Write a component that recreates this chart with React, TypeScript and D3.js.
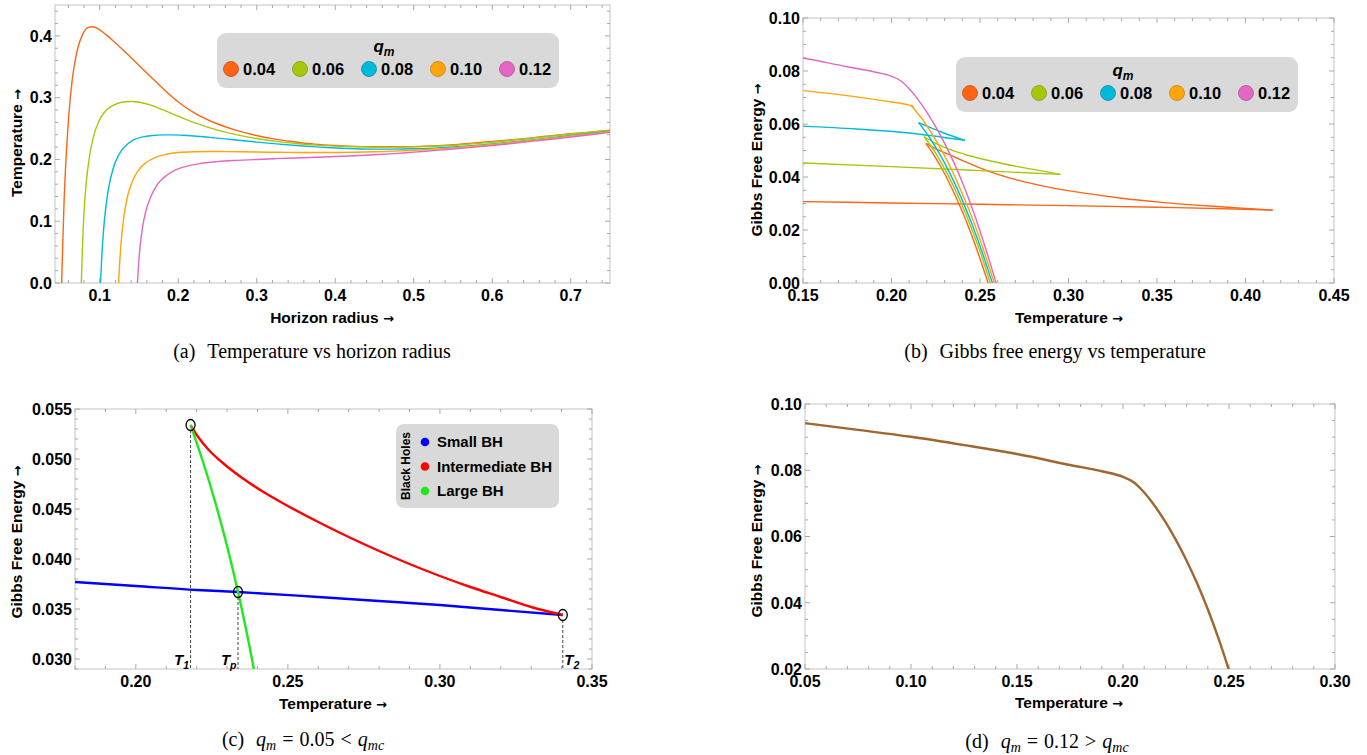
import React from 'react';
import * as d3 from 'd3';

type Pt = [number, number];

const SANS = '"Liberation Sans", Arial, Helvetica, sans-serif';
const SERIF = '"Liberation Serif", "Times New Roman", Times, serif';
const ARROW_FONT = '"DejaVu Sans", sans-serif';

// ---------------- shared legend (q_m) ----------------
const qmLabels = ['0.04', '0.06', '0.08', '0.10', '0.12'];
const qmColors = ['#FF6414', '#A5C80C', '#00B9DB', '#FFA50A', '#E466C2'];

// ---------------- (a) Temperature vs horizon radius ----------------
const radiusTicksA = [0.1, 0.2, 0.3, 0.4, 0.5, 0.6, 0.7];
const tempTicksA = [0, 0.1, 0.2, 0.3, 0.4];

const tempQ004: Pt[] = [[0.0515, 0], [0.0528, 0.06], [0.0545, 0.13], [0.057, 0.2], [0.0605, 0.27], [0.065, 0.33], [0.071, 0.375], [0.078, 0.402], [0.085, 0.4135], [0.091, 0.4148], [0.098, 0.4115], [0.106, 0.404], [0.118, 0.391], [0.134, 0.372], [0.155, 0.346], [0.177, 0.319], [0.198, 0.295], [0.222, 0.274], [0.247, 0.259], [0.273, 0.2475], [0.298, 0.2392], [0.323, 0.2328], [0.35, 0.2282], [0.3735, 0.2248], [0.4, 0.2225], [0.424, 0.2212], [0.45, 0.2206], [0.474, 0.2205], [0.5, 0.2208], [0.525, 0.2218], [0.55, 0.2238], [0.575, 0.2264], [0.6, 0.229], [0.626, 0.232], [0.65, 0.235], [0.676, 0.2385], [0.7, 0.2415], [0.725, 0.2443], [0.75, 0.2472]];
const tempQ006: Pt[] = [[0.0765, 0], [0.078, 0.06], [0.08, 0.115], [0.083, 0.165], [0.087, 0.205], [0.092, 0.237], [0.099, 0.262], [0.107, 0.278], [0.117, 0.2875], [0.128, 0.2925], [0.14, 0.2938], [0.152, 0.2922], [0.165, 0.2878], [0.18, 0.2805], [0.2, 0.27], [0.225, 0.2575], [0.25, 0.2475], [0.275, 0.2398], [0.3, 0.2338], [0.325, 0.2292], [0.35, 0.2258], [0.375, 0.2232], [0.4, 0.2215], [0.425, 0.2205], [0.45, 0.22], [0.475, 0.2199], [0.5, 0.2203], [0.525, 0.2213], [0.55, 0.2229], [0.575, 0.2252], [0.6, 0.2279], [0.625, 0.231], [0.65, 0.2343], [0.675, 0.2378], [0.7, 0.2412], [0.725, 0.2441], [0.75, 0.247]];
const tempQ008: Pt[] = [[0.101, 0], [0.1025, 0.04], [0.1045, 0.08], [0.1075, 0.12], [0.1115, 0.155], [0.117, 0.185], [0.124, 0.207], [0.133, 0.222], [0.143, 0.2315], [0.155, 0.2365], [0.168, 0.2388], [0.18, 0.2397], [0.192, 0.2398], [0.205, 0.2392], [0.22, 0.238], [0.24, 0.2358], [0.26, 0.2333], [0.28, 0.2306], [0.3, 0.2281], [0.325, 0.2252], [0.35, 0.2226], [0.375, 0.2203], [0.4, 0.2185], [0.425, 0.2173], [0.45, 0.2167], [0.475, 0.2167], [0.5, 0.2172], [0.525, 0.2184], [0.55, 0.2201], [0.575, 0.2224], [0.6, 0.2251], [0.625, 0.2282], [0.65, 0.2316], [0.675, 0.2351], [0.7, 0.2387], [0.725, 0.2421], [0.75, 0.2455]];
const tempQ010: Pt[] = [[0.124, 0], [0.1255, 0.035], [0.1275, 0.07], [0.1305, 0.105], [0.135, 0.138], [0.141, 0.163], [0.149, 0.182], [0.159, 0.195], [0.171, 0.2035], [0.185, 0.2085], [0.2, 0.2112], [0.22, 0.2125], [0.24, 0.2128], [0.26, 0.2127], [0.28, 0.2124], [0.3, 0.212], [0.325, 0.2116], [0.35, 0.2113], [0.375, 0.2112], [0.4, 0.2113], [0.425, 0.2117], [0.45, 0.2124], [0.475, 0.2134], [0.5, 0.2148], [0.525, 0.2166], [0.55, 0.2188], [0.575, 0.2213], [0.6, 0.2242], [0.625, 0.2274], [0.65, 0.2308], [0.675, 0.2343], [0.7, 0.2379], [0.725, 0.2414], [0.75, 0.2449]];
const tempQ012: Pt[] = [[0.148, 0], [0.1495, 0.03], [0.1515, 0.06], [0.1545, 0.09], [0.1585, 0.115], [0.1645, 0.138], [0.172, 0.157], [0.182, 0.171], [0.194, 0.1815], [0.209, 0.1885], [0.227, 0.1933], [0.25, 0.1965], [0.275, 0.1985], [0.3, 0.2], [0.325, 0.2013], [0.35, 0.2024], [0.375, 0.2035], [0.4, 0.2047], [0.425, 0.206], [0.45, 0.2075], [0.475, 0.2094], [0.5, 0.2118], [0.525, 0.2142], [0.55, 0.2168], [0.575, 0.2196], [0.6, 0.2226], [0.625, 0.2258], [0.65, 0.2292], [0.675, 0.2327], [0.7, 0.2363], [0.725, 0.24], [0.75, 0.2438]];
const tempSeries = [tempQ004, tempQ006, tempQ008, tempQ010, tempQ012];

// ---------------- (b) Gibbs free energy vs temperature ----------------
const tempTicksB = [0.15, 0.2, 0.25, 0.3, 0.35, 0.4, 0.45];
const gibbsTicksB = [0, 0.02, 0.04, 0.06, 0.08, 0.1];

const gibbsSmallQ004: Pt[] = [[0.15, 0.0307], [0.2, 0.0302], [0.25, 0.0297], [0.3, 0.0292], [0.35, 0.0286], [0.4, 0.02785], [0.4154, 0.0275]];
const gibbsMidQ004: Pt[] = [[0.2195, 0.0527], [0.226, 0.0503], [0.2336, 0.0482], [0.2425, 0.0455], [0.2524, 0.0428], [0.2713, 0.0388], [0.29, 0.036], [0.31, 0.0338], [0.33, 0.032], [0.35, 0.0306], [0.37, 0.0295], [0.39, 0.0286], [0.405, 0.0279], [0.4154, 0.0275]];
const gibbsLargeQ004: Pt[] = [[0.2195, 0.0527], [0.2245, 0.0477], [0.2295, 0.0419], [0.2345, 0.0352], [0.2395, 0.0277], [0.2445, 0.0194], [0.2495, 0.0102], [0.2546, 0], [0.2552, -0.0012]];
const gibbsSmallQ006: Pt[] = [[0.15, 0.0453], [0.2, 0.0439], [0.25, 0.0424], [0.2954, 0.041]];
const gibbsMidQ006: Pt[] = [[0.2185, 0.0552], [0.225, 0.0527], [0.2336, 0.0502], [0.2425, 0.0483], [0.2524, 0.0466], [0.2713, 0.0439], [0.285, 0.0423], [0.2954, 0.041]];
const gibbsLargeQ006: Pt[] = [[0.2185, 0.0552], [0.2238, 0.0502], [0.2291, 0.0442], [0.2345, 0.0373], [0.2398, 0.0295], [0.2451, 0.0208], [0.2505, 0.0111], [0.2558, 0], [0.2564, -0.0012]];
const gibbsSmallQ008: Pt[] = [[0.15, 0.0592], [0.18, 0.0581], [0.21, 0.0566], [0.2415, 0.0538]];
const gibbsMidQ008: Pt[] = [[0.2153, 0.0605], [0.222, 0.0586], [0.23, 0.0565], [0.2415, 0.0538]];
const gibbsLargeQ008: Pt[] = [[0.2153, 0.0605], [0.2213, 0.0551], [0.2272, 0.0487], [0.2332, 0.0411], [0.2392, 0.0325], [0.2451, 0.0228], [0.2511, 0.0119], [0.257, 0], [0.2576, -0.0012]];
const gibbsSmallQ010: Pt[] = [[0.15, 0.0726], [0.175, 0.0707], [0.2, 0.0683], [0.21, 0.0671], [0.2126, 0.0665]];
const gibbsMidQ010: Pt[] = [[0.2112, 0.0669], [0.2126, 0.0665]];
const gibbsLargeQ010: Pt[] = [[0.2112, 0.0669], [0.2171, 0.0621], [0.2229, 0.0563], [0.2288, 0.0495], [0.2347, 0.0417], [0.2405, 0.0329], [0.2464, 0.0231], [0.2522, 0.0121], [0.2581, 0], [0.2587, -0.0012]];
// q_m = 0.12 (single branch, also used in panel d)
const gibbsQ012: Pt[] = [[0.05, 0.0942], [0.075, 0.0922], [0.1, 0.0901], [0.125, 0.0876], [0.15, 0.0849], [0.175, 0.0816], [0.19, 0.0797], [0.2, 0.078], [0.205, 0.0764], [0.21, 0.0733], [0.215, 0.0692], [0.22, 0.0644], [0.225, 0.0589], [0.23, 0.0527], [0.235, 0.0458], [0.24, 0.03805], [0.245, 0.0293], [0.25, 0.0196], [0.255, 0.0091], [0.26, -0.0019]];

const gibbsBranchesB: Pt[][][] = [
  [gibbsSmallQ004, gibbsMidQ004, gibbsLargeQ004],
  [gibbsSmallQ006, gibbsMidQ006, gibbsLargeQ006],
  [gibbsSmallQ008, gibbsMidQ008, gibbsLargeQ008],
  [gibbsSmallQ010, gibbsMidQ010, gibbsLargeQ010],
  [gibbsQ012],
];

// ---------------- (c) q_m = 0.05 ----------------
const tempTicksC = [0.2, 0.25, 0.3, 0.35];
const gibbsTicksC = [0.03, 0.035, 0.04, 0.045, 0.05, 0.055];
const smallBH: Pt[] = [[0.18, 0.0377], [0.2, 0.0373], [0.22, 0.0369], [0.2336, 0.0367], [0.26, 0.0362], [0.28, 0.0358], [0.3, 0.0354], [0.32, 0.0349], [0.3404, 0.0344]];
const intermediateBH: Pt[] = [[0.218, 0.0534], [0.2205, 0.0522], [0.224, 0.0509], [0.229, 0.0495], [0.235, 0.0481], [0.242, 0.0467], [0.25, 0.0453], [0.26, 0.0437], [0.27, 0.0422], [0.28, 0.0408], [0.29, 0.0395], [0.3, 0.0383], [0.31, 0.0372], [0.32, 0.0362], [0.33, 0.0352], [0.3404, 0.0344]];
const largeBH: Pt[] = [[0.218, 0.0534], [0.222, 0.0498], [0.226, 0.0458], [0.23, 0.0413], [0.2336, 0.0367], [0.2365, 0.0326], [0.2388, 0.029], [0.2395, 0.0278]];
const bhLabels = ['Small BH', 'Intermediate BH', 'Large BH'];
const bhColors = ['#0000FF', '#FF0000', '#1EE81E'];
const transitionSubs = ['1', 'p', '2'];
const transitionPoints: Pt[] = [[0.218, 0.0534], [0.2336, 0.0367], [0.3404, 0.0344]];

// ---------------- (d) q_m = 0.12 ----------------
const tempTicksD = [0.05, 0.1, 0.15, 0.2, 0.25, 0.3];
const gibbsTicksD = [0.02, 0.04, 0.06, 0.08, 0.1];

// ---------------- helpers ----------------
function minorValues(domain: number[], step: number, majors: number[]) {
  const out: number[] = [];
  const lo = Math.min(domain[0], domain[1]);
  const hi = Math.max(domain[0], domain[1]);
  const start = Math.ceil(lo / step - 1e-6);
  for (let k = start; k * step <= hi + 1e-9; k++) {
    const v = +(k * step).toFixed(6);
    if (!majors.some(m => Math.abs(m - v) < step / 10)) out.push(v);
  }
  return out;
}

function Axes({ x, y, xTicks, yTicks, xMinor, yMinor, xDigits, yDigits, id }: any) {
  const [x0, x1] = x.range();
  const [y0, y1] = y.range();
  const xm = minorValues(x.domain(), xMinor, xTicks);
  const ym = minorValues(y.domain(), yMinor, yTicks);
  const tc = '#a8a8a8';
  const M = 5, m = 3;
  return (
    <g>
      <rect x={x0} y={y1} width={x1 - x0} height={y0 - y1} fill="none" stroke="#c4c4c4" strokeWidth={1} />
      {xTicks.map((v: number) => (
        <g key={'xM' + v}>
          <line x1={x(v)} x2={x(v)} y1={y0} y2={y0 - M} stroke={tc} />
          <line x1={x(v)} x2={x(v)} y1={y1} y2={y1 + M} stroke={tc} />
        </g>
      ))}
      {xm.map((v: number) => (
        <g key={'xm' + v}>
          <line x1={x(v)} x2={x(v)} y1={y0} y2={y0 - m} stroke={tc} />
          <line x1={x(v)} x2={x(v)} y1={y1} y2={y1 + m} stroke={tc} />
        </g>
      ))}
      {yTicks.map((v: number) => (
        <g key={'yM' + v}>
          <line y1={y(v)} y2={y(v)} x1={x0} x2={x0 + M} stroke={tc} />
          <line y1={y(v)} y2={y(v)} x1={x1} x2={x1 - M} stroke={tc} />
        </g>
      ))}
      {ym.map((v: number) => (
        <g key={'ym' + v}>
          <line y1={y(v)} y2={y(v)} x1={x0} x2={x0 + m} stroke={tc} />
          <line y1={y(v)} y2={y(v)} x1={x1} x2={x1 - m} stroke={tc} />
        </g>
      ))}
      {xTicks.map((v: number) => (
        <text key={'xl' + v} x={x(v)} y={y0 + 18} textAnchor="middle" fontFamily={SANS} fontWeight="bold" fontSize={16} fill="#000">
          {v.toFixed(xDigits)}
        </text>
      ))}
      {yTicks.map((v: number) => (
        <text key={'yl' + v} x={x0 - 3} y={y(v)} dy="0.36em" textAnchor="end" fontFamily={SANS} fontWeight="bold" fontSize={16} fill="#000">
          {v.toFixed(yDigits)}
        </text>
      ))}
      <clipPath id={id}>
        <rect x={x0} y={y1} width={x1 - x0} height={y0 - y1} />
      </clipPath>
    </g>
  );
}

function AxisTitles({ xLabel, xCx, xBase, yLabel, yCx, yCy }: any) {
  return (
    <g fontFamily={SANS} fontWeight="bold" fontSize={15.5} fill="#000">
      <text x={xCx} y={xBase} textAnchor="middle">
        {xLabel} <tspan fontFamily={ARROW_FONT} fontSize={13}>→</tspan>
      </text>
      <text transform={`translate(${yCx},${yCy}) rotate(-90)`} textAnchor="middle" dy="0.36em">
        {yLabel} <tspan fontFamily={ARROW_FONT} fontSize={13}>→</tspan>
      </text>
    </g>
  );
}

function QmLegend({ bx, by }: any) {
  const w = 342, h = 55;
  return (
    <g>
      <rect x={bx} y={by} width={w} height={h} rx={9} fill="#D9D9D9" />
      <text x={bx + w / 2 - 4} y={by + 19} fontFamily={SANS} fontWeight="bold" fontStyle="italic" fontSize={17} textAnchor="middle">
        q<tspan fontSize={12} dy={4}>m</tspan>
      </text>
      {qmLabels.map((lab, i) => {
        const cx = bx + 14 + i * 69;
        const cy = by + 36;
        return (
          <g key={lab}>
            <circle cx={cx} cy={cy} r={7.5} fill={qmColors[i]} stroke={d3.color(qmColors[i])!.darker(0.7).toString()} strokeWidth={0.8} />
            <text x={cx + 12} y={cy} dy="0.36em" fontFamily={SANS} fontWeight="bold" fontSize={16.5}>{lab}</text>
          </g>
        );
      })}
    </g>
  );
}

function Caption({ cx, y, label, children }: any) {
  return (
    <text x={cx} y={y} textAnchor="middle" fontFamily={SERIF} fontSize={20} fill="#000">
      <tspan>{label}</tspan>
      <tspan dx={12}>{children}</tspan>
    </text>
  );
}

function MathCaption({ cx, y, label, value, rel }: any) {
  return (
    <text x={cx} y={y} textAnchor="middle" fontFamily={SERIF} fontSize={20} fill="#000">
      <tspan>{label}</tspan>
      <tspan dx={12} fontStyle="italic">q</tspan>
      <tspan fontStyle="italic" fontSize={14} dy={4}>m</tspan>
      <tspan dy={-4} dx={6}>=</tspan>
      <tspan dx={6}>{value}</tspan>
      <tspan dx={6}>{rel}</tspan>
      <tspan dx={6} fontStyle="italic">q</tspan>
      <tspan fontStyle="italic" fontSize={14} dy={4}>mc</tspan>
    </text>
  );
}

export default function App() {
  // (a)
  const xA = d3.scaleLinear().domain([0.043, 0.75]).range([55, 610]);
  const yA = d3.scaleLinear().domain([0, 0.45]).range([283, 5]);
  const lineA = d3.line<Pt>().x(d => xA(d[0])).y(d => yA(d[1])).curve(d3.curveMonotoneX);

  // (b)
  const xB = d3.scaleLinear().domain([0.15, 0.45]).range([803, 1334]);
  const yB = d3.scaleLinear().domain([0, 0.1]).range([283, 18]);
  const lineB = d3.line<Pt>().x(d => xB(d[0])).y(d => yB(d[1])).curve(d3.curveMonotoneX);

  // (c)
  const xC = d3.scaleLinear().domain([0.18, 0.35]).range([75, 592]);
  const yC = d3.scaleLinear().domain([0.029, 0.055]).range([669, 409]);
  const lineC = d3.line<Pt>().x(d => xC(d[0])).y(d => yC(d[1])).curve(d3.curveMonotoneX);

  // (d)
  const xD = d3.scaleLinear().domain([0.05, 0.3]).range([805, 1335]);
  const yD = d3.scaleLinear().domain([0.02, 0.1]).range([669, 404]);
  const lineD = d3.line<Pt>().x(d => xD(d[0])).y(d => yD(d[1])).curve(d3.curveMonotoneX);

  const bhSeries = [smallBH, intermediateBH, largeBH];

  return (
    <svg width={1367} height={755} style={{ position: 'absolute', left: 0, top: 0, background: '#fff' }}>
      <rect x={0} y={0} width={1367} height={755} fill="#fff" />

      {/* ---------- (a) ---------- */}
      <Axes id="clipA" x={xA} y={yA} xTicks={radiusTicksA} yTicks={tempTicksA} xMinor={0.02} yMinor={0.02} xDigits={1} yDigits={1} />
      <g clipPath="url(#clipA)">
        {tempSeries.map((s, i) => (
          <path key={i} d={lineA(s) || ''} fill="none" stroke={qmColors[i]} strokeWidth={1.4} />
        ))}
      </g>
      <QmLegend bx={217} by={33} />
      <AxisTitles xLabel="Horizon radius" xCx={332} xBase={323} yLabel="Temperature" yCx={16} yCy={143} />
      <Caption cx={312} y={358} label="(a)">Temperature vs horizon radius</Caption>

      {/* ---------- (b) ---------- */}
      <Axes id="clipB" x={xB} y={yB} xTicks={tempTicksB} yTicks={gibbsTicksB} xMinor={0.01} yMinor={0.005} xDigits={2} yDigits={2} />
      <g clipPath="url(#clipB)">
        {gibbsBranchesB.map((branches, i) =>
          branches.map((s, j) => (
            <path key={i + '-' + j} d={lineB(s) || ''} fill="none" stroke={qmColors[i]} strokeWidth={1.4} />
          ))
        )}
      </g>
      <QmLegend bx={956} by={57} />
      <AxisTitles xLabel="Temperature" xCx={1069} xBase={323} yLabel="Gibbs Free Energy" yCx={756} yCy={160} />
      <Caption cx={1055} y={358} label="(b)">Gibbs free energy vs temperature</Caption>

      {/* ---------- (c) ---------- */}
      <Axes id="clipC" x={xC} y={yC} xTicks={tempTicksC} yTicks={gibbsTicksC} xMinor={0.01} yMinor={0.001} xDigits={2} yDigits={3} />
      <g clipPath="url(#clipC)">
        {bhSeries.map((s, i) => (
          <path key={i} d={lineC(s) || ''} fill="none" stroke={bhColors[i]} strokeWidth={2.4} />
        ))}
      </g>
      {transitionPoints.map((p, i) => {
        const px = xC(p[0]);
        const py = yC(p[1]);
        const y0 = yC.range()[0];
        const right = i === 2;
        return (
          <g key={'tp' + i}>
            <line x1={px} x2={px} y1={py + 5} y2={y0} stroke="#444" strokeWidth={1} strokeDasharray="3,2" />
            <ellipse cx={px} cy={py} rx={4.5} ry={5.5} fill="none" stroke="#000" strokeWidth={1.3} />
            <text x={right ? px + 1.5 : px - 1.5} y={y0 - 4} textAnchor={right ? 'start' : 'end'} fontFamily={SANS} fontWeight="bold" fontStyle="italic" fontSize={15}>
              T<tspan fontSize={10.5} dy={3.5}>{transitionSubs[i]}</tspan>
            </text>
          </g>
        );
      })}
      <g>
        <rect x={396} y={424} width={163} height={84} rx={8} fill="#D9D9D9" />
        <text transform="translate(410,466) rotate(-90)" textAnchor="middle" fontFamily={SANS} fontWeight="bold" fontSize={12}>Black Holes</text>
        {bhLabels.map((lab, i) => (
          <g key={lab}>
            <circle cx={425} cy={442 + i * 24.5} r={4.3} fill={bhColors[i]} />
            <text x={437} y={442 + i * 24.5} dy="0.36em" fontFamily={SANS} fontWeight="bold" fontSize={15}>{lab}</text>
          </g>
        ))}
      </g>
      <AxisTitles xLabel="Temperature" xCx={333} xBase={709} yLabel="Gibbs Free Energy" yCx={16} yCy={542} />
      <MathCaption cx={303} y={746} label="(c)" value="0.05" rel="<" />

      {/* ---------- (d) ---------- */}
      <Axes id="clipD" x={xD} y={yD} xTicks={tempTicksD} yTicks={gibbsTicksD} xMinor={0.01} yMinor={0.005} xDigits={2} yDigits={2} />
      <g clipPath="url(#clipD)">
        <path d={lineD(gibbsQ012) || ''} fill="none" stroke="#A0662F" strokeWidth={2.4} />
      </g>
      <AxisTitles xLabel="Temperature" xCx={1069} xBase={708} yLabel="Gibbs Free Energy" yCx={756} yCy={541} />
      <MathCaption cx={1047} y={748} label="(d)" value="0.12" rel=">" />
    </svg>
  );
}
